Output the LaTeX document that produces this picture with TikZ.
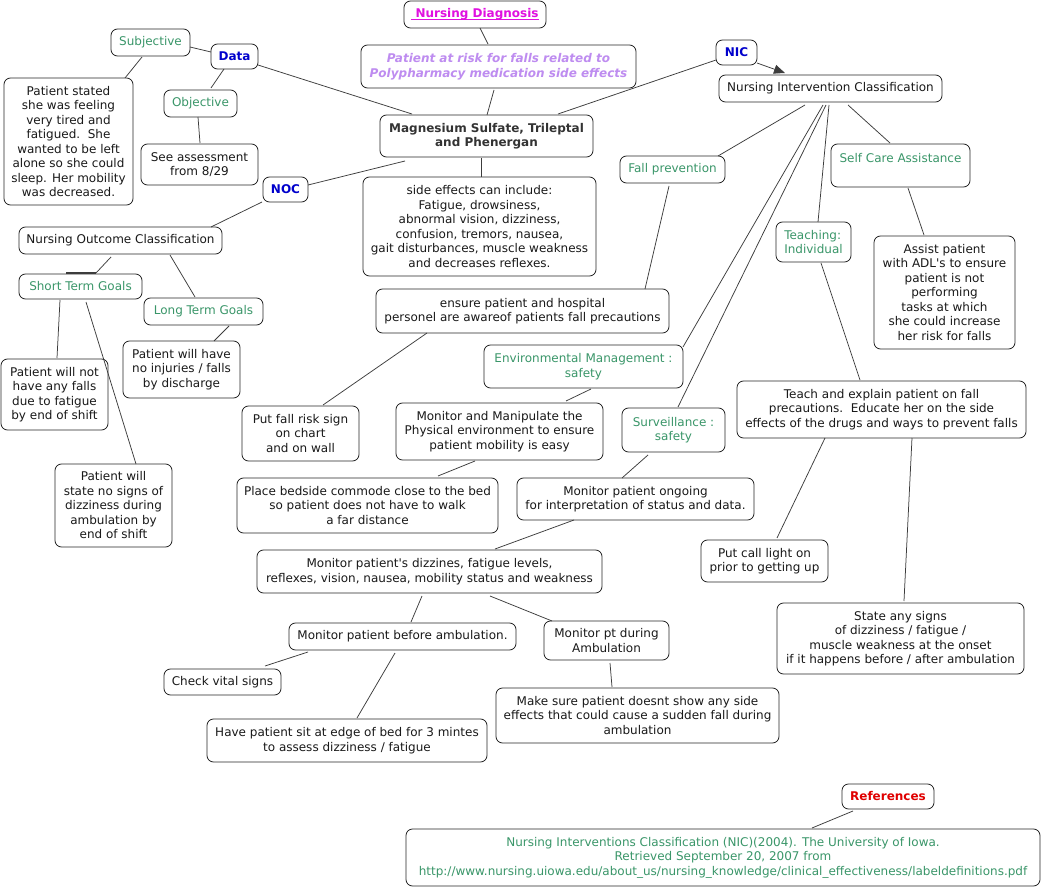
\documentclass[tikz,border=0pt]{standalone}
\usepackage{fontspec}
\setmainfont{DejaVu Sans}[Ligatures=TeXOff]
\newcommand{\myunder}[1]{\setbox0\hbox{#1}\rlap{\rule[-1.9pt]{\wd0}{0.9pt}}\box0}
\usetikzlibrary{calc,arrows.meta}
\definecolor{gtext}{RGB}{58,150,105}
\definecolor{btext}{RGB}{0,0,204}
\definecolor{rtext}{RGB}{224,0,0}
\definecolor{mtext}{RGB}{224,16,224}
\definecolor{ptext}{RGB}{190,140,240}
\definecolor{dtext}{RGB}{51,51,51}
\definecolor{edgec}{RGB}{60,60,60}
\begin{document}
\begin{tikzpicture}[x=1pt,y=-1pt,
  box/.style={draw=black!85, line width=0.8pt, rounded corners=6.5pt, fill=white, inner sep=0pt, align=center, font=\fontsize{12}{14.5}\selectfont, text=black!90},
  sz/.style 2 args={minimum width=#1, minimum height=#2},
  gbox/.style={box, text=gtext},
  bbox/.style={box, text=btext, font=\fontsize{12}{14.5}\selectfont\bfseries},
  link/.style={draw=edgec, line width=0.75pt},
]
\fill[white] (0,0) rectangle (1045,888);
\useasboundingbox (0,0) rectangle (1045,888);

% top centre
\node[box, sz={142}{27}, text=mtext, font=\fontsize{12}{14.5}\selectfont\bfseries] (diag) at (475,14.5) {\myunder{\ Nursing Diagnosis}};
\node[box, sz={275}{43}, text=ptext, font=\fontsize{12}{14.5}\selectfont\bfseries\itshape] (risk) at (498.5,66.5) {Patient at risk for falls related to\\Polypharmacy medication side effects};
\node[box, sz={213}{42}, text=dtext, font=\fontsize{12}{14.5}\selectfont\bfseries] (mag) at (486.5,136) {Magnesium Sulfate, Trileptal\\and Phenergan};
\node[box, sz={233}{99}] (side) at (479.5,226.5) {side effects can include:\\Fatigue, drowsiness,\\abnormal vision, dizziness,\\confusion, tremors, nausea,\\gait disturbances, muscle weakness\\and decreases reflexes.};

% data branch
\node[gbox, sz={79}{27}] (subj) at (150.5,42.5) {Subjective};
\node[bbox, sz={47}{25}] (data) at (234.5,56.5) {Data};
\node[gbox, sz={73}{27}] (obj) at (200.5,103.5) {Objective};
\node[box, sz={129}{127}] (pstated) at (68.5,141.5) {Patient stated\\she was feeling\\very tired and\\fatigued.\ \ She\\wanted to be left\\alone so she could\\sleep. Her mobility\\was decreased.};
\node[box, sz={117}{41}] (seeass) at (199.5,164.5) {See assessment\\from 8/29};

% NOC branch
\node[bbox, sz={45}{25}] (noc) at (285.5,189.5) {NOC};
\node[box, sz={203}{27}] (nocc) at (120.5,240.5) {Nursing Outcome Classification};
\node[gbox, sz={123}{25}] (stg) at (80.5,286.5) {Short Term Goals};
\node[gbox, sz={119}{27}] (ltg) at (203.5,311.5) {Long Term Goals};
\node[box, sz={117}{57}] (noinj) at (181.5,369.5) {Patient will have\\no injuries / falls\\by discharge};
\node[box, sz={107}{71}] (nofalls) at (54.5,394.5) {Patient will not\\have any falls\\due to fatigue\\by end of shift};
\node[box, sz={117}{83}] (nodizzy) at (113.5,505.5) {Patient will\\state no signs of\\dizziness during\\ambulation by\\end of shift};

% NIC branch
\node[bbox, sz={41}{25}] (nic) at (736.5,52.5) {NIC};
\node[box, sz={223}{27}] (nicc) at (830.5,88.5) {Nursing Intervention Classification};
\node[gbox, sz={105}{27}] (fallprev) at (672.5,169.5) {Fall prevention};
\node[gbox, sz={139}{43}] (selfcare) at (900.5,165.5) {Self Care Assistance\\\mbox{}};
\node[gbox, sz={75}{40}, align=left] (teach) at (813.5,242) {Teaching:\\Individual};
\node[box, sz={141}{113}] (assist) at (944.5,292.5) {Assist patient\\with ADL's to ensure\\patient is not\\performing\\tasks at which\\she could increase\\her risk for falls};
\node[box, sz={293}{44}] (ensure) at (522.5,311) {ensure patient and hospital\\personel are awareof patients fall precautions};
\node[gbox, sz={199}{43}] (envm) at (583.5,366.5) {Environmental Management :\\safety};
\node[gbox, sz={103}{44}] (surv) at (673.5,430) {Surveillance :\\safety};
\node[box, sz={117}{55}] (fallsign) at (300.5,433.5) {Put fall risk sign\\on chart\\and on wall};
\node[box, sz={207}{57}] (manip) at (499.5,431.5) {Monitor and Manipulate the\\Physical environment to ensure\\patient mobility is easy};
\node[box, sz={261}{55}] (commode) at (367.5,505.5) {Place bedside commode close to the bed\\so patient does not have to walk\\a far distance};
\node[box, sz={237}{42}] (ongoing) at (635.5,499) {Monitor patient ongoing\\for interpretation of status and data.};
\node[box, sz={289}{57}] (teachexp) at (881.5,409.5) {Teach and explain patient on fall\\precautions.\ \ Educate her on the side\\effects of the drugs and ways to prevent falls};
\node[box, sz={127}{42}] (calllight) at (764.5,561) {Put call light on\\prior to getting up};
\node[box, sz={247}{71}] (statesigns) at (900.5,638.5) {State any signs\\of dizziness / fatigue /\\muscle weakness at the onset\\if it happens before / after ambulation};
\node[box, sz={345}{43}] (mondizz) at (429.5,571.5) {Monitor patient's dizzines, fatigue levels,\\reflexes, vision, nausea, mobility status and weakness};
\node[box, sz={227}{27}] (before) at (402.5,636.5) {Monitor patient before ambulation.};
\node[box, sz={125}{39}] (during) at (606.5,640.5) {Monitor pt during\\Ambulation};
\node[box, sz={117}{26}] (vitals) at (222.5,682) {Check vital signs};
\node[box, sz={280}{43}] (sit) at (347,740.5) {Have patient sit at edge of bed for 3 mintes\\to assess dizziness / fatigue};
\node[box, sz={283}{55}] (makesure) at (637.5,715.5) {Make sure patient doesnt show any side\\effects that could cause a sudden fall during\\ambulation};

% references
\node[box, sz={92}{25}, text=rtext, font=\fontsize{12}{14.5}\selectfont\bfseries] (refs) at (888,796.5) {References};
\node[gbox, sz={634}{57}] (refbox) at (723,857.5) {Nursing Interventions Classification (NIC)(2004). The University of Iowa.\\Retrieved September 20, 2007 from\\http://www.nursing.uiowa.edu/about\_us/nursing\_knowledge/clinical\_effectiveness/labeldefinitions.pdf};

% connectors
\draw[link] ($(subj)+(39.5,4.5)$) -- ($(data)+(-23.5,-4.5)$);
\draw[link] ($(data)+(23.5,8.5)$) -- ($(mag)+(-74.5,-22)$);
\draw[link] ($(subj)+(-8.5,14.5)$) -- ($(pstated)+(56.5,-63.5)$);
\draw[link] ($(data)+(-10.5,12.5)$) -- ($(obj)+(10.5,-15.5)$);
\draw[link] ($(obj)+(-2.5,13.5)$) -- ($(seeass)+(0.5,-21.5)$);
\draw[link] ($(diag)+(5,13.5)$) -- ($(risk)+(-10.5,-22.5)$);
\draw[link] ($(risk)+(-4.5,23.5)$) -- ($(mag)+(0.5,-21)$);
\draw[link] ($(nic)+(-20.5,7.5)$) -- ($(mag)+(71.5,-22)$);
\draw[link, -{Triangle[length=11pt,width=9pt]}] ($(nic)+(20.5,10.5)$) -- ($(nicc)+(-45.5,-15.5)$);
\draw[link] ($(mag)+(-5.5,22)$) -- ($(side)+(1.5,-49.5)$);
\draw[link] ($(mag)+(-81.5,25)$) -- ($(noc)+(22.5,-4.5)$);
\draw[link] ($(noc)+(-23.5,12.5)$) -- ($(nocc)+(90.5,-13.5)$);
\draw[link] ($(nocc)+(-9.5,16.5)$) -- ($(stg)+(15.5,-13.5)$);
\draw[link, line width=1.6pt] ($(stg)+(-14.5,-13.5)$) -- ($(stg)+(15.5,-13.5)$);
\draw[link] ($(nocc)+(49.5,14.5)$) -- ($(ltg)+(-8.5,-14.5)$);
\draw[link] ($(stg)+(-20.5,13.5)$) -- ($(nofalls)+(2.5,-36.5)$);
\draw[link] ($(stg)+(5.5,15.5)$) -- ($(nodizzy)+(22.5,-41.5)$);
\draw[link] ($(ltg)+(25.5,14.5)$) -- ($(noinj)+(32.5,-28.5)$);
\draw[link] ($(nicc)+(-25.5,16.5)$) -- ($(fallprev)+(45.5,-13.5)$);
\draw[link] ($(nicc)+(-7.5,16.5)$) -- ($(envm)+(99.5,-19.5)$);
\draw[link] ($(nicc)+(-4.5,16.5)$) -- ($(surv)+(4.5,-23)$);
\draw[link] ($(nicc)+(-1.5,16.5)$) -- ($(teach)+(4.5,-20)$);
\draw[link] ($(nicc)+(17.5,16.5)$) -- ($(selfcare)+(-10.5,-22.5)$);
\draw[link] ($(fallprev)+(-3.5,16.5)$) -- ($(ensure)+(122.5,-22)$);
\draw[link] ($(selfcare)+(7.5,22.5)$) -- ($(assist)+(-20.5,-57.5)$);
\draw[link] ($(teach)+(7.5,21)$) -- ($(teachexp)+(-21.5,-29.5)$);
\draw[link] ($(ensure)+(-95.5,22)$) -- ($(fallsign)+(22.5,-28.5)$);
\draw[link] ($(envm)+(7.5,22.5)$) -- ($(manip)+(66.5,-30.5)$);
\draw[link] ($(manip)+(-24.5,29.5)$) -- ($(commode)+(70.5,-29.5)$);
\draw[link] ($(surv)+(-25.5,25)$) -- ($(ongoing)+(-13.5,-21)$);
\draw[link] ($(ongoing)+(-61.5,21)$) -- ($(mondizz)+(65.5,-22.5)$);
\draw[link] ($(teachexp)+(-56.5,28.5)$) -- ($(calllight)+(12.5,-23)$);
\draw[link] ($(teachexp)+(30.5,28.5)$) -- ($(statesigns)+(3.5,-37.5)$);
\draw[link] ($(mondizz)+(-7.5,24.5)$) -- ($(before)+(8.5,-14.5)$);
\draw[link] ($(mondizz)+(60.5,24.5)$) -- ($(during)+(-54.5,-19.5)$);
\draw[link] ($(before)+(-94.5,15.5)$) -- ($(vitals)+(42.5,-16)$);
\draw[link] ($(before)+(-7.5,16.5)$) -- ($(sit)+(10,-22.5)$);
\draw[link] ($(during)+(3.5,22.5)$) -- ($(makesure)+(-25.5,-28.5)$);
\draw[link] ($(refs)+(-35,14.5)$) -- ($(refbox)+(89,-29.5)$);
\end{tikzpicture}
\end{document}
